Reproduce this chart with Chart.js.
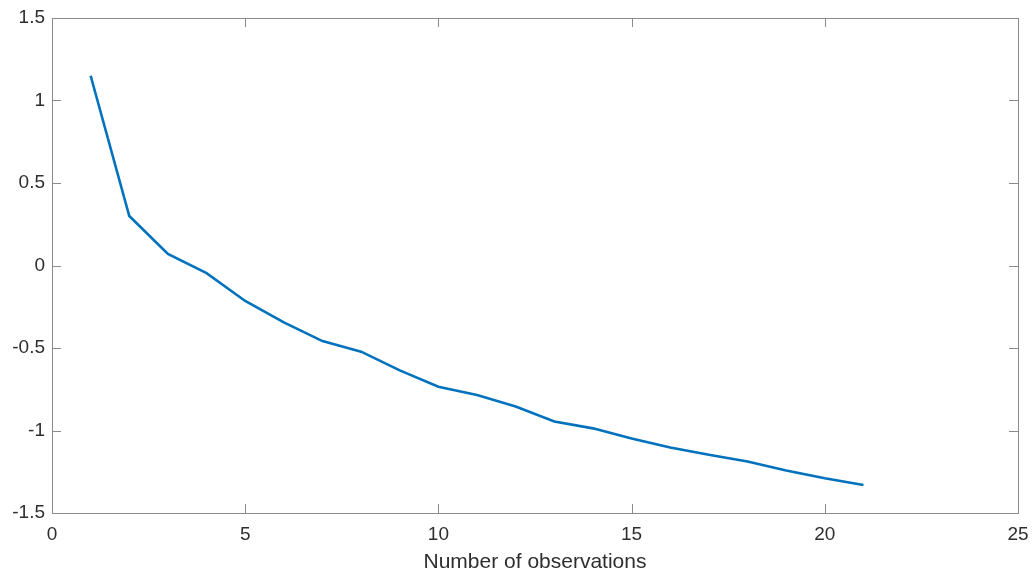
<!DOCTYPE html>
<html>
<head>
<meta charset="utf-8">
<script src="https://cdn.jsdelivr.net/npm/chart.js@4.4.1/dist/chart.umd.min.js"></script>
<style>
  html, body { margin: 0; padding: 0; background: #fff; }
  #wrap { width: 1032px; height: 573px; }
</style>
</head>
<body>
<div id="wrap"><canvas id="c"></canvas></div>
<script>
// observations (x) and value (y)
const observations = [1, 2, 3, 4, 5, 6, 7, 8, 9, 10, 11, 12, 13, 14, 15, 16, 17, 18, 19, 20, 21];
const values = [1.15, 0.30, 0.07, -0.046, -0.215, -0.345, -0.458, -0.522, -0.636, -0.735, -0.785, -0.855, -0.945, -0.987, -1.048, -1.103, -1.147, -1.188, -1.242, -1.289, -1.33];
const xTicks = [0, 5, 10, 15, 20, 25];
const yTicks = [-1.5, -1, -0.5, 0, 0.5, 1, 1.5];

const AXIS_COLOR = '#8a8a8a';
const TEXT_COLOR = '#2e2e2e';
const LINE_COLOR = '#0072BD';
const FONT = 'Liberation Sans, Arial, sans-serif';

// box + matlab style inward ticks on all four sides
const boxTicks = {
    id: 'boxTicks',
    afterDraw(chart) {
        const { ctx, chartArea: a, scales: { x, y } } = chart;
        const len = 9;
        ctx.save();
        ctx.strokeStyle = AXIS_COLOR;
        ctx.lineWidth = 1;
        ctx.beginPath();
        xTicks.forEach(v => {
            const px = Math.round(x.getPixelForValue(v)) + 0.5;
            ctx.moveTo(px, a.bottom); ctx.lineTo(px, a.bottom - len);
            ctx.moveTo(px, a.top); ctx.lineTo(px, a.top + len);
        });
        yTicks.forEach(v => {
            const py = Math.round(y.getPixelForValue(v)) + 0.5;
            ctx.moveTo(a.left, py); ctx.lineTo(a.left + len, py);
            ctx.moveTo(a.right, py); ctx.lineTo(a.right - len, py);
        });
        ctx.stroke();
        ctx.strokeRect(Math.round(a.left) + 0.5, Math.round(a.top) + 0.5,
            Math.round(a.right - a.left), Math.round(a.bottom - a.top));
        ctx.restore();
    }
};

new Chart(document.getElementById('c'), {
    type: 'line',
    data: {
        datasets: [{
            data: observations.map((o, i) => ({ x: o, y: values[i] })),
            borderColor: LINE_COLOR,
            borderWidth: 2.6,
            pointRadius: 0,
            tension: 0,
            fill: false
        }]
    },
    options: {
        responsive: true,
        maintainAspectRatio: false,
        animation: false,
        layout: { padding: { top: 18, right: 14, left: 0, bottom: 0 } },
        plugins: { legend: { display: false }, tooltip: { enabled: false } },
        scales: {
            x: {
                type: 'linear',
                min: 0, max: 25,
                afterBuildTicks: s => { s.ticks = xTicks.map(v => ({ value: v })); },
                afterFit: s => { s.height = 60; s.paddingLeft = 0; s.paddingRight = 0; },
                grid: { display: false, drawTicks: false },
                border: { display: false },
                ticks: {
                    color: TEXT_COLOR,
                    padding: 10,
                    maxRotation: 0,
                    font: { family: FONT, size: 19 }
                },
                title: {
                    display: true,
                    text: 'Number of observations',
                    color: TEXT_COLOR,
                    padding: { top: 0, bottom: 0 },
                    font: { family: FONT, size: 21, lineHeight: 1 }
                }
            },
            y: {
                type: 'linear',
                min: -1.5, max: 1.5,
                afterBuildTicks: s => { s.ticks = yTicks.map(v => ({ value: v })); },
                afterFit: s => { s.width = 52; s.paddingTop = 0; s.paddingBottom = 0; },
                grid: { display: false, drawTicks: false },
                border: { display: false },
                ticks: {
                    color: TEXT_COLOR,
                    padding: 7,
                    font: { family: FONT, size: 19 },
                    callback: v => String(v)
                }
            }
        }
    },
    plugins: [boxTicks]
});
</script>
</body>
</html>
